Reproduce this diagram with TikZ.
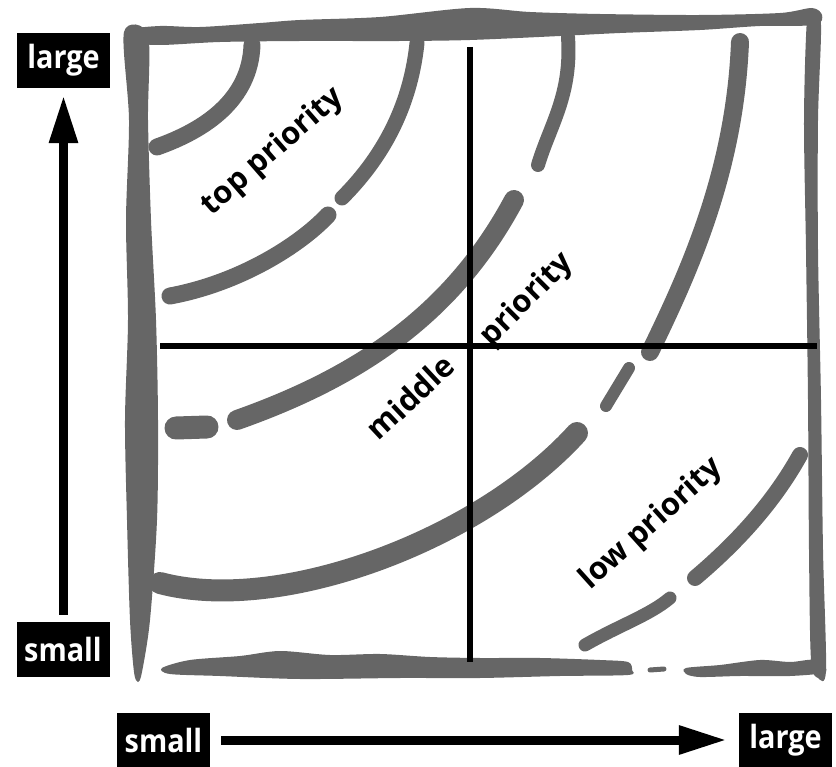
\documentclass[tikz,border=0pt]{standalone}
\usepackage{fontspec}
\setsansfont{Open Sans}
\newfontfamily\boxfont{Open Sans}[FakeStretch=0.9]
\usetikzlibrary{arrows.meta}
\definecolor{brush}{HTML}{666666}

\begin{document}
\begin{tikzpicture}[x=1pt,y=-1pt,
    labelbox/.style={fill=black,text=white,minimum width=93pt,minimum height=55pt,
      inner sep=0pt,font=\boxfont\bfseries\fontsize{32}{34}\selectfont},
    zone/.style={inner sep=0pt,font=\sffamily\bfseries\fontsize{31}{33}\selectfont},
    axisarrow/.style={line width=9pt,-{Triangle[length=48pt,width=27pt]}},
    brushline/.style={draw=brush,line cap=round,line width=#1},
    frameside/.style={fill=brush},
    cross/.style={line width=6.5pt}]
    \useasboundingbox (0,0) rectangle (836,767);

    \fill[frameside] plot[smooth cycle] coordinates {(124,32) (129,120) (126,220) (128,320)
      (125,420) (127,520) (130,620) (134,672) (138,682) (142,672) (150,620) (157,520)
      (158,420) (156,320) (151,220) (148,120) (148,35)};
    \fill[frameside] plot[smooth cycle] coordinates {(128,30) (160,26) (200,27) (260,23)
      (300,20) (380,17) (470,8) (530,12) (600,14) (700,15) (780,13) (812,8) (822,15)
      (815,25) (760,26) (700,30) (620,33) (560,36) (470,40) (400,41) (300,41) (220,42)
      (160,45) (130,42)};
    \fill[frameside] plot[smooth cycle] coordinates {(807,20) (804,120) (806,250) (808,400)
      (809,550) (811,660) (818,678) (826,670) (823,550) (821,400) (818,250) (818,120)
      (821,25) (814,10)};
    \fill[frameside] plot[smooth cycle] coordinates {(162,668) (190,660) (240,656) (280,651)
      (330,655) (380,654) (430,657) (480,658) (540,658) (600,660) (628,662) (632,670)
      (628,675) (560,676) (480,678) (400,678) (300,679) (220,676) (170,674)};
    \draw[brushline=5pt] (650,670) -- (664,669);
    \fill[frameside] plot[smooth cycle] coordinates {(686,668) (720,665) (760,660) (790,662)
      (815,660) (826,672) (790,676) (740,676) (700,677) (686,674)};

    \draw[brushline=17pt] (157,147) .. controls (205,130) and (250,100) .. (252,45);
    \draw[brushline=17pt] (170,296) .. controls (240,283) and (300,245) .. (328,215);
    \draw[brushline=15pt] (342,198) .. controls (380,160) and (410,110) .. (417,43);
    \draw[brushline=23pt] (176,428) -- (207,427);
    \draw[brushline=20pt] (237,420) .. controls (350,380) and (450,320) .. (514,200);
    \draw[brushline=14pt] (538,165) .. controls (550,125) and (572,95) .. (568,37);
    \draw[brushline=22pt] (160,583) .. controls (280,615) and (480,540) .. (577,433);
    \draw[brushline=12pt] (606,406) -- (629,368);
    \draw[brushline=18pt] (650,352) .. controls (690,270) and (735,170) .. (740,42);
    \draw[brushline=13pt] (585,645) .. controls (620,625) and (650,615) .. (670,598);
    \draw[brushline=16pt] (695,578) .. controls (740,540) and (775,500) .. (800,455);

    \draw[cross] (470,47) -- (470,662);
    \draw[cross] (160,346) -- (817,346);

    \node[zone,rotate=41] (top) at (273,152) {top priority};
    \node[zone,rotate=43] (middle) at (410,397) {middle};
    \node[zone,rotate=45] (mid) at (527,300) {priority};
    \node[zone,rotate=42] (low) at (652,524) {low priority};

    \node[labelbox] (ylarge) at (63.5,60.5) {large};
    \node[labelbox] (ysmall) at (63,649.5) {small};
    \node[labelbox] (xsmall) at (163.5,740) {small};
    \node[labelbox] (xlarge) at (785.5,740) {large};

    \draw[axisarrow,shorten <=7pt,shorten >=7pt] (ysmall.north -| ylarge) -- (ylarge.south);
    \draw[axisarrow,shorten <=11pt,shorten >=12pt] (xsmall.east) -- (xlarge.west);
  \end{tikzpicture}
\end{document}
